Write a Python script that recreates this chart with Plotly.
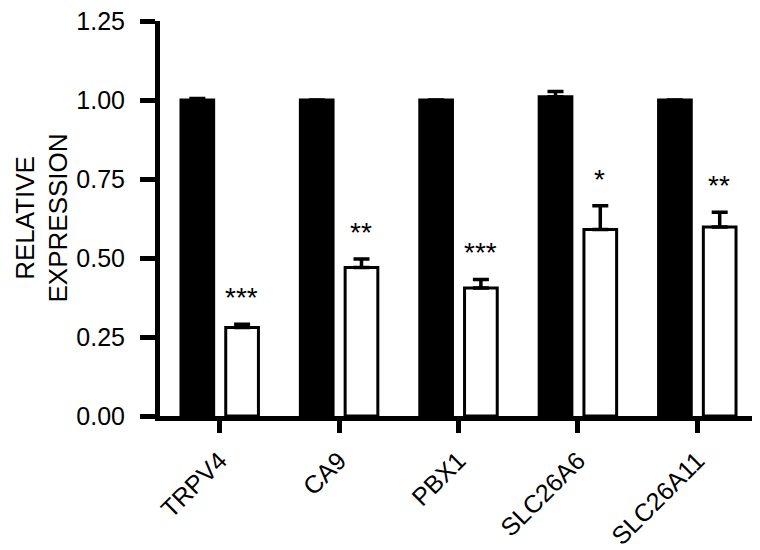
import plotly.graph_objects as go

genes = ["TRPV4", "CA9", "PBX1", "SLC26A6", "SLC26A11"]
control = [1.00, 1.00, 1.00, 1.01, 1.00]
control_err = [0.005, 0.0, 0.0, 0.017, 0.0]
treated = [0.28, 0.47, 0.405, 0.59, 0.598]
treated_err = [0.01, 0.027, 0.027, 0.075, 0.047]
stars = ["***", "**", "***", "*", "**"]

font = "Liberation Sans, Arial, sans-serif"

fig = go.Figure()
fig.add_trace(go.Bar(
    x=genes, y=control, name="control",
    marker=dict(color="black", line=dict(color="black", width=3)),
    error_y=dict(type="data", array=control_err, arrayminus=[0] * 5, symmetric=False,
                 color="black", thickness=3.5, width=8),
))
fig.add_trace(go.Bar(
    x=genes, y=treated, name="treated",
    marker=dict(color="white", line=dict(color="black", width=3)),
    error_y=dict(type="data", array=treated_err, arrayminus=[0] * 5, symmetric=False,
                 color="black", thickness=3.5, width=8),
))

# significance stars over the white bars
for g, v, e, s in zip(genes, treated, treated_err, stars):
    fig.add_annotation(x=g, y=v + e, text=s, showarrow=False, xshift=22,
                       yanchor="bottom", yshift=9,
                       font=dict(family=font, size=28, color="black"))

# y title as annotation so it can sit close to the left edge
fig.add_annotation(xref="paper", yref="paper", x=0, y=0.5, xanchor="center",
                   xshift=-119, text="RELATIVE<br>EXPRESSION", textangle=-90,
                   showarrow=False, font=dict(family=font, size=26, color="black"))

# page body adds 8px offset, margins compensate
fig.update_layout(
    width=760, height=550,
    margin=dict(l=152, r=11, t=13, b=142),
    plot_bgcolor="white", paper_bgcolor="white",
    barmode="group", bargap=0.25, bargroupgap=0.27,
    showlegend=False,
    font=dict(family=font, size=26, color="black"),
)
fig.update_xaxes(
    range=[-0.5, 4.5], showline=True, linecolor="black", linewidth=5,
    ticks="outside", ticklen=12, tickwidth=5, tickcolor="black",
    tickangle=-45, tickfont=dict(size=25), ticklabelstandoff=3,
    ticklabeloverflow="allow", automargin=False,
)
fig.update_yaxes(
    range=[0, 1.25], tickvals=[0, 0.25, 0.5, 0.75, 1.0, 1.25],
    tickformat=".2f", showgrid=False, zeroline=False,
    showline=True, linecolor="black", linewidth=5,
    ticks="outside", ticklen=15, tickwidth=5, tickcolor="black",
    ticklabelstandoff=10, tickfont=dict(size=25), ticklabeloverflow="allow",
    automargin=False,
)

fig.write_html("out.html")
